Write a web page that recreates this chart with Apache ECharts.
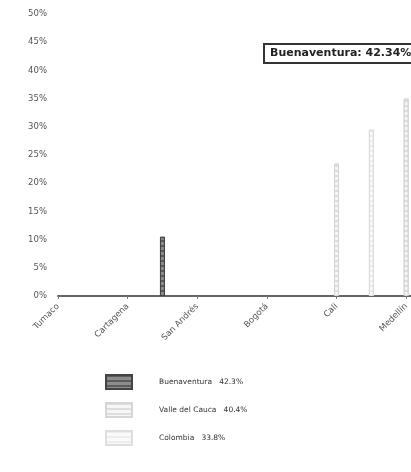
<!DOCTYPE html>
<html>
<head>
<meta charset="utf-8">
<script src="https://cdn.jsdelivr.net/npm/echarts@6/dist/echarts.min.js"></script>
<style>html,body{margin:0;padding:0;background:#fff}#c{width:411px;height:472px}</style>
</head>
<body>
<div id="c"></div>
<script>
var categories = ['Tumaco','Quibdó','Cartagena','Riohacha','San Andrés','Cúcuta','Bogotá','Pasto','Cali','Manizales','Medellín','Buenaventura'];
var seriesNames = ['Buenaventura','Valle del Cauca','Colombia'];
var seriesTotals = ['42.3%','40.4%','33.8%'];
var buenaventura = [null,null,null,10.5,null,null,null,null,null,null,null,42.34];
var valle = [null,null,null,null,null,null,null,null,23.5,null,35,null];
var colombia = [null,null,null,null,null,null,null,null,null,29.5,null,null];
var yTicks = [0,5,10,15,20,25,30,35,40,45,50];
var highlight = 'Buenaventura: 42.34%';

var chart = echarts.init(document.getElementById('c'));
function decal(c){return {symbol:'rect',color:c,dashArrayX:[1,0],dashArrayY:[2,3],rotation:0,symbolSize:1};}
chart.setOption({
  animation:false,
  title:{text:highlight,left:264,top:44,padding:[4,6],borderWidth:2,borderColor:'#333',backgroundColor:'#fff',
    textStyle:{fontSize:11,fontWeight:'bold',color:'#222',fontFamily:'DejaVu Sans'}},
  grid:{left:58,right:-30,top:14,bottom:176,containLabel:false,outerBoundsMode:'none'},
  legend:{orient:'vertical',left:100,top:369,itemWidth:26,itemHeight:14,itemGap:12,icon:'rect',
    data:seriesNames,
    formatter:function(n){return n+'   '+seriesTotals[seriesNames.indexOf(n)];},
    textStyle:{fontSize:7.5,color:'#333',padding:[0,0,0,22],fontFamily:'DejaVu Sans'}},
  xAxis:{type:'category',data:categories,boundaryGap:false,
    axisLine:{lineStyle:{color:'#666',width:2}},
    axisTick:{show:true,length:3,lineStyle:{color:'#777'}},
    axisLabel:{interval:1,rotate:45,fontSize:8.5,color:'#555',margin:9,fontFamily:'DejaVu Sans'}},
  yAxis:{type:'value',min:yTicks[0],max:yTicks[yTicks.length-1],interval:5,
    splitLine:{show:false},axisLine:{show:false},axisTick:{show:false},
    axisLabel:{formatter:'{value}%',fontSize:8.5,color:'#555',margin:11,fontFamily:'DejaVu Sans'}},
  series:[
    {name:seriesNames[0],type:'bar',data:buenaventura,barWidth:5,barGap:'-100%',
      itemStyle:{color:'#8c8c8c',borderColor:'#444',borderWidth:1,decal:decal('rgba(0,0,0,0.35)')}},
    {name:seriesNames[1],type:'bar',data:valle,barWidth:5,barGap:'-100%',
      itemStyle:{color:'#f6f6f6',borderColor:'#d6d6d6',borderWidth:1,decal:decal('rgba(0,0,0,0.1)')}},
    {name:seriesNames[2],type:'bar',data:colombia,barWidth:5,barGap:'-100%',
      itemStyle:{color:'#fafafa',borderColor:'#dedede',borderWidth:1,decal:decal('rgba(0,0,0,0.05)')}}
  ]
});
</script>
</body>
</html>
